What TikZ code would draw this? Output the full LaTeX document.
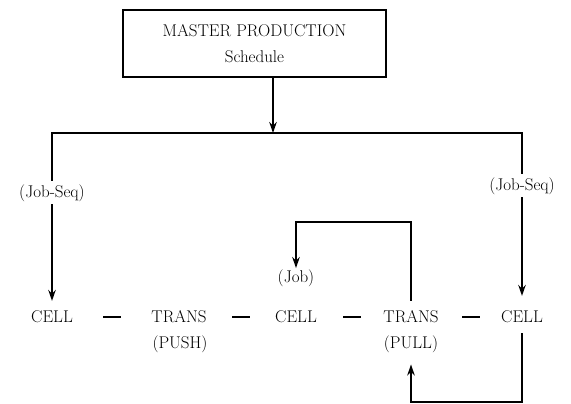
\documentclass[tikz,border=0pt]{standalone}
\usetikzlibrary{arrows.meta, positioning}
\tikzset{
  word/.style={font=\fontsize{17}{20}\selectfont, inner sep=1pt},
  master/.style={rectangle, draw=black, line width=1.2pt, minimum width=263pt,
                 minimum height=67pt, align=center, font=\fontsize{17}{20}\selectfont},
  tag/.style={font=\fontsize{17}{20}\selectfont, fill=white, inner sep=3pt},
  flow/.style={-{Stealth[length=11pt, width=7.5pt]}, draw=black, line width=2.4pt},
}
\newcommand{\linkdash}{\rule[4.5pt]{18pt}{1.8pt}}

\begin{document}
\begin{tikzpicture}[x=1pt, y=-1pt]
  \useasboundingbox (0,0) rectangle (571,404);

  % Nodes
  \node[master] (mps) at (254.5,43.5) {MASTER PRODUCTION\\[6pt]Schedule};
  \node[word, anchor=base] (cellA) at (52,322) {CELL};
  \node[word, anchor=base] (dashA) at (112,322) {\linkdash};
  \node[word, anchor=base] (transA) at (179,322) {TRANS};
  \node[word, anchor=base] (pushLab) at (180,348) {(PUSH)};
  \node[word, anchor=base] (dashB) at (241,322) {\linkdash};
  \node[word, anchor=base] (cellB) at (296,322) {CELL};
  \node[word, anchor=base] (jobLab) at (296,282) {(Job)};
  \node[word, anchor=base] (dashC) at (352,322) {\linkdash};
  \node[word, anchor=base] (transB) at (411,322) {TRANS};
  \node[word, anchor=base] (pullLab) at (411,348) {(PULL)};
  \node[word, anchor=base] (dashD) at (471,322) {\linkdash};
  \node[word, anchor=base] (cellC) at (522,322) {CELL};

  \coordinate (split) at (273,133);
  \coordinate (loopTop) at (0,222);
  \coordinate (loopBot) at (0,402);

  % Edges
  \draw[flow] (mps.south -| split) -- (split);
  \draw[flow, shorten >=8pt] (split) -| node[tag, pos=0.67] {(Job-Seq)} (cellA.north);
  \draw[flow, shorten >=13pt] (split) -| node[tag, pos=0.65] {(Job-Seq)} (cellC.north);

  % Pull loops
  \draw[flow, shorten <=8pt] (transB.north) -- (transB.north |- loopTop) -| (jobLab.north);
  \draw[flow, shorten <=10pt, shorten >=11pt] (cellC.south) -- (cellC.south |- loopBot) -| (pullLab.south);

\end{tikzpicture}
\end{document}
